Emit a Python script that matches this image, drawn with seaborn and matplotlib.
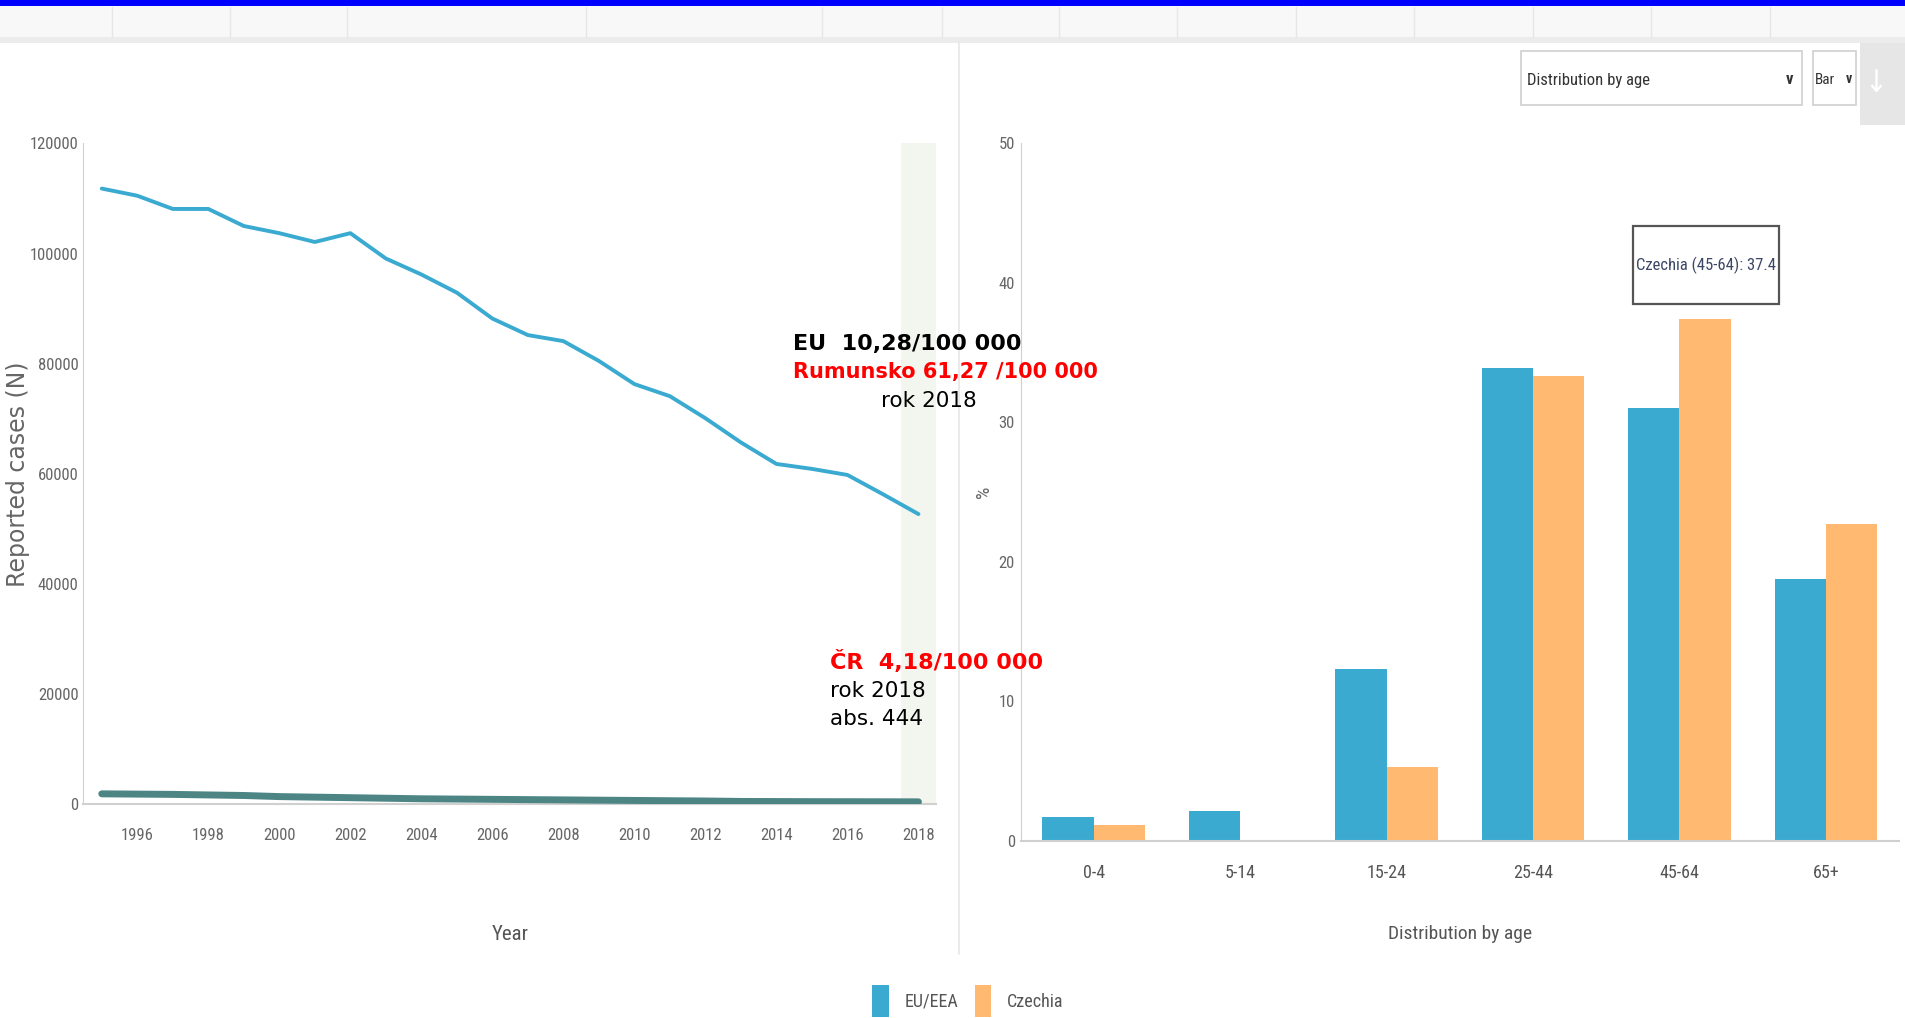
import matplotlib
matplotlib.use("Agg")
import matplotlib.pyplot as plt
import seaborn as sns
import pandas as pd
from matplotlib.patches import Rectangle, Patch
from matplotlib.lines import Line2D
from matplotlib import font_manager as fm

# ---------------- data ----------------
years = list(range(1995, 2019))
eu_cases = [111800, 110500, 108100, 108100, 105000, 103700, 102100, 103700,
            99100, 96200, 92900, 88200, 85200, 84100, 80500, 76300, 74100,
            70100, 65700, 61800, 60900, 59800, 56300, 52700]
cz_cases = [1900, 1850, 1800, 1700, 1600, 1400, 1300, 1200, 1100, 1000, 950,
            900, 850, 800, 750, 700, 650, 600, 520, 500, 480, 470, 460, 444]

age_groups = ["0-4", "5-14", "15-24", "25-44", "45-64", "65+"]
eu_pct = [1.7, 2.1, 12.3, 33.9, 31.0, 18.8]
cz_pct = [1.1, 0.0, 5.3, 33.3, 37.4, 22.7]

year_ticks = list(range(1996, 2019, 2))
cases_ticks = [0, 20000, 40000, 60000, 80000, 100000, 120000]
pct_ticks = [0, 10, 20, 30, 40, 50]

EU_BLUE = "#3aaad1"
CZ_ORANGE = "#ffb970"
CZ_LINE = "#4d8585"

# ---------------- setup ----------------
sns.set_style("white")
names = {f.name for f in fm.fontManager.ttflist}
narrow = None
for cand in ["Liberation Sans Narrow", "DejaVu Sans Condensed", "Roboto Condensed",
             "Open Sans Condensed", "Noto Sans Condensed"]:
    if cand in names:
        narrow = cand
        break
if narrow is None:
    narrow = "DejaVu Sans"
plt.rcParams["font.family"] = [narrow, "DejaVu Sans"]
plt.rcParams["font.stretch"] = "condensed"
NS = 12 if narrow == "Liberation Sans Narrow" else 11

W, H = 1905, 1018
fig = plt.figure(figsize=(W / 100, H / 100), dpi=100)


def fx(px):
    return px / W


def fy(py):
    return 1 - py / H


# ---------------- page decoration ----------------
fig.add_artist(Rectangle((0, fy(42)), 1, 42 / H - 6 / H, transform=fig.transFigure,
                         fc="#f8f8f8", ec="none", zorder=0))
fig.add_artist(Rectangle((0, fy(43)), 1, 6 / H, transform=fig.transFigure,
                         fc="#ececec", ec="none", zorder=0))
for sx in [112, 230, 347, 586, 822, 942, 1059, 1177, 1296, 1414, 1533, 1651, 1770]:
    fig.add_artist(Line2D([fx(sx), fx(sx)], [fy(37), fy(7)], transform=fig.transFigure,
                          color="#e6e6e6", lw=1))
fig.add_artist(Rectangle((0, fy(6)), 1, 6 / H, transform=fig.transFigure,
                         fc="#0000ff", ec="none", zorder=5))
# divider
fig.add_artist(Line2D([fx(959), fx(959)], [fy(954), fy(43)], transform=fig.transFigure,
                      color="#e6e6e6", lw=1.2))
# dropdowns
fig.add_artist(Rectangle((fx(1521), fy(105)), (1802 - 1521) / W, 54 / H,
                         transform=fig.transFigure, fc="white", ec="#cfcfcf", lw=1.2))
fig.text(fx(1527), fy(80), "Distribution by age", fontsize=NS + 1, color="#333",
         ha="left", va="center")
fig.text(fx(1790), fy(79), "v", fontsize=NS + 1, fontweight="bold", color="#333",
         ha="center", va="center")
fig.add_artist(Rectangle((fx(1813), fy(105)), (1856 - 1813) / W, 54 / H,
                         transform=fig.transFigure, fc="white", ec="#cfcfcf", lw=1.2))
fig.text(fx(1815), fy(80), "Bar", fontsize=NS, color="#333", ha="left", va="center")
fig.text(fx(1849), fy(79), "v", fontsize=NS - 1, fontweight="bold", color="#333",
         ha="center", va="center")
fig.add_artist(Rectangle((fx(1860), fy(125)), 45 / W, 82 / H,
                         transform=fig.transFigure, fc="#e6e6e6", ec="none"))
fig.text(fx(1876), fy(84), "↓", fontsize=22, color="white", ha="center", va="center",
         family="DejaVu Sans")

# ---------------- left: line chart ----------------
ax1 = fig.add_axes([fx(82.6), fy(804.3), (935.5 - 82.6) / W, (804.3 - 143.4) / H])
ax1.axvspan(2017.5, 2018.5, color="#f3f6ee", zorder=0, lw=0)
df_eu = pd.DataFrame({"year": years, "cases": eu_cases})
df_cz = pd.DataFrame({"year": years, "cases": cz_cases})
sns.lineplot(data=df_cz, x="year", y="cases", ax=ax1, color=CZ_LINE, lw=5, zorder=3)
sns.lineplot(data=df_eu, x="year", y="cases", ax=ax1, color=EU_BLUE, lw=2.8, zorder=4)
ax1.set_xlim(1994.46, 2018.48)
ax1.set_ylim(0, 120000)
ax1.set_yticks(cases_ticks)
ax1.set_yticklabels([str(v) for v in cases_ticks])
ax1.set_xticks(year_ticks)
ax1.set_xticklabels([str(y) for y in year_ticks])
ax1.set_xticks(list(range(1995, 2018, 2)), minor=True)
ax1.tick_params(axis="x", which="major", length=0, pad=17, labelsize=NS + 1, labelcolor="#666")
ax1.tick_params(axis="x", which="minor", length=17, width=1, color="#d4d4d4", direction="out")
ax1.tick_params(axis="y", length=0, pad=3, labelsize=NS + 1, labelcolor="#666")
for s in ["top", "right"]:
    ax1.spines[s].set_visible(False)
ax1.spines["left"].set_color("#d0d0d0")
ax1.spines["bottom"].set_color("#d0d0d0")
ax1.spines["bottom"].set_linewidth(1.5)
ax1.set_xlabel("")
ax1.set_ylabel("")
ax1.patch.set_alpha(0)
fig.text(fx(510), fy(934), "Year", fontsize=NS + 4, color="#555", ha="center", va="center")
fig.text(fx(18), fy(474), "Reported cases (N)", fontsize=17, color="#666", rotation=90,
         ha="center", va="center", family="DejaVu Sans", stretch="normal")

# ---------------- right: bar chart ----------------
ax2 = fig.add_axes([fx(1020.5), fy(840.7), (1899 - 1020.5) / W, (840.7 - 143.4) / H])
df_age = pd.DataFrame({
    "age": age_groups * 2,
    "pct": eu_pct + cz_pct,
    "region": ["EU/EEA"] * len(age_groups) + ["Czechia"] * len(age_groups),
})
sns.barplot(data=df_age, x="age", y="pct", hue="region",
            palette={"EU/EEA": EU_BLUE, "Czechia": CZ_ORANGE},
            width=0.7, gap=0, saturation=1, ax=ax2, legend=False, linewidth=0)
ax2.set_xlim(-0.5, 5.5)
ax2.set_ylim(0, 50)
ax2.set_yticks(pct_ticks)
ax2.set_yticklabels([str(v) for v in pct_ticks])
ax2.tick_params(axis="x", length=12, width=1, color="#d4d4d4", pad=5,
                labelsize=NS + 2, labelcolor="#555")
ax2.tick_params(axis="y", length=0, pad=4, labelsize=NS + 1, labelcolor="#666")
for s in ["top", "right"]:
    ax2.spines[s].set_visible(False)
ax2.spines["left"].set_color("#d0d0d0")
ax2.spines["bottom"].set_color("#d0d0d0")
ax2.spines["bottom"].set_linewidth(1.5)
ax2.set_xlabel("")
ax2.set_ylabel("")
ax2.patch.set_alpha(0)
fig.text(fx(1460), fy(934), "Distribution by age", fontsize=NS + 3, color="#555",
         ha="center", va="center")
fig.text(fx(984), fy(492), "%", fontsize=NS + 3, color="#666", rotation=90,
         ha="center", va="center")

# tooltip
fig.add_artist(Rectangle((fx(1633), fy(304)), (1779 - 1633) / W, (304 - 226) / H,
                         transform=fig.transFigure, fc="white", ec="#555", lw=1.6, zorder=6))
fig.text(fx(1706), fy(265), "Czechia (45-64): 37.4", fontsize=NS + 1, color="#3c4766",
         ha="center", va="center", zorder=7)

# ---------------- annotations ----------------
ann = dict(family="DejaVu Sans", stretch="normal", ha="left", va="center", zorder=8)
fig.text(fx(793), fy(344), "EU  10,28/100 000", fontsize=16, fontweight="bold",
         color="black", **ann)
fig.text(fx(793), fy(372), "Rumunsko 61,27 /100 000", fontsize=15, fontweight="bold",
         color="#ff0000", **ann)
fig.text(fx(881), fy(401), "rok 2018", fontsize=15.5, color="black", **ann)
fig.text(fx(830), fy(662), "ČR  4,18/100 000", fontsize=16, fontweight="bold",
         color="#ff0000", **ann)
fig.text(fx(830), fy(691), "rok 2018", fontsize=15.5, color="black", **ann)
fig.text(fx(830), fy(719), "abs. 444", fontsize=15.5, color="black", **ann)

# ---------------- legend ----------------
handles = [Patch(facecolor=EU_BLUE, edgecolor="none"),
           Patch(facecolor=CZ_ORANGE, edgecolor="none")]
fig.legend(handles, ["EU/EEA", "Czechia"], loc="center",
           bbox_to_anchor=(fx(968), fy(1001)), ncol=2, frameon=False,
           handlelength=0.9, handleheight=2.4, handletextpad=0.9,
           columnspacing=0.9, fontsize=NS + 2, labelcolor="#555")

fig.savefig("out.png", dpi=100)
